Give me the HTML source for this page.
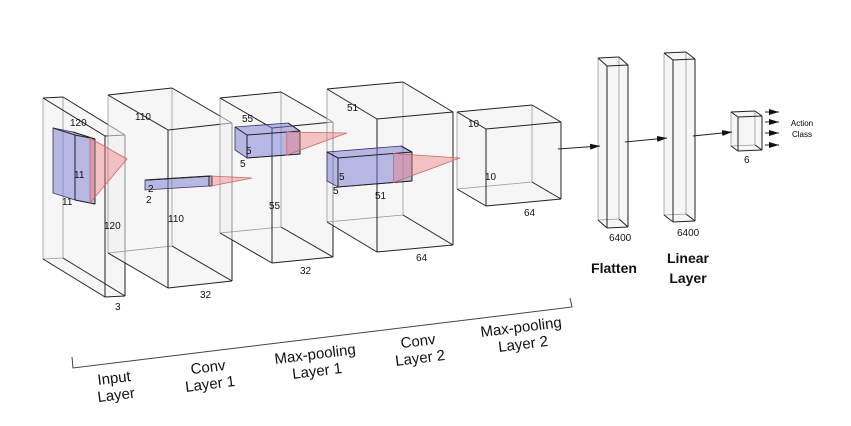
<!DOCTYPE html>
<html><head><meta charset="utf-8"><style>
html,body{margin:0;padding:0;background:#fff;}
svg{display:block;font-family:"Liberation Sans",Arial,sans-serif;}
.e{fill:none;stroke:#222;stroke-width:1}
.h{fill:none;stroke:#999;stroke-width:0.8}
.f{fill:#eeeeee;fill-opacity:0.55;stroke:none}
.lb{font-size:10px;fill:#111}
.bl{font-size:15px;fill:#111}
.bb{font-size:14px;font-weight:bold;fill:#111}
</style></head><body>
<svg width="851" height="426" viewBox="0 0 851 426">
<defs><marker id="ah" viewBox="0 0 10 6" refX="10" refY="3" markerWidth="10" markerHeight="6" orient="auto" markerUnits="userSpaceOnUse"><path d="M0,0L10,3L0,6z" fill="#111"/></marker></defs>
<g id="boxes"></g>
<g>
<text class="lb" x="70" y="126">120</text><text class="lb" x="74" y="178">11</text><text class="lb" x="62" y="205">11</text>
<text class="lb" x="104" y="229">120</text><text class="lb" x="115" y="310">3</text>
<text class="lb" x="135" y="120">110</text><text class="lb" x="148" y="192">2</text><text class="lb" x="146" y="203">2</text>
<text class="lb" x="168" y="222">110</text><text class="lb" x="200" y="298">32</text>
<text class="lb" x="242" y="122">55</text><text class="lb" x="246" y="154">5</text><text class="lb" x="240" y="167">5</text>
<text class="lb" x="269" y="209">55</text><text class="lb" x="300" y="274">32</text>
<text class="lb" x="347" y="111">51</text><text class="lb" x="339" y="180">5</text><text class="lb" x="333" y="194">5</text>
<text class="lb" x="375" y="199">51</text><text class="lb" x="416" y="261">64</text>
<text class="lb" x="468" y="127">10</text><text class="lb" x="485" y="180">10</text><text class="lb" x="524" y="216">64</text>
<text class="lb" x="609" y="241">6400</text><text class="lb" x="677" y="236">6400</text><text class="lb" x="744" y="163">6</text>
<text style="font-size:8px" x="802" y="126" text-anchor="middle">Action</text>
<text style="font-size:8px" x="802" y="137" text-anchor="middle">Class</text>
</g>
<g>
<line class="e" x1="558" y1="149" x2="600" y2="146" marker-end="url(#ah)"/>
<line class="e" x1="625" y1="142" x2="667" y2="138" marker-end="url(#ah)"/>
<line class="e" x1="693" y1="136" x2="732" y2="132" marker-end="url(#ah)"/>
<line class="e" x1="765" y1="112" x2="779" y2="112" marker-end="url(#ah)"/>
<line class="e" x1="765" y1="122" x2="779" y2="122" marker-end="url(#ah)"/>
<line class="e" x1="765" y1="133" x2="779" y2="133" marker-end="url(#ah)"/>
<line class="e" x1="765" y1="145" x2="779" y2="145" marker-end="url(#ah)"/>
</g>
<text class="bb" x="614" y="273" text-anchor="middle">Flatten</text>
<text class="bb" x="688" y="263" text-anchor="middle">Linear</text>
<text class="bb" x="688" y="283" text-anchor="middle">Layer</text>
<path d="M72,357 L73,368 L572,307 L570,298" fill="none" stroke="#444" stroke-width="1"/>
<g>
<g transform="translate(115,386) rotate(-7)"><text class="bl" text-anchor="middle" y="-3">Input</text><text class="bl" text-anchor="middle" y="14">Layer</text></g>
<g transform="translate(209,375) rotate(-7)"><text class="bl" text-anchor="middle" y="-3">Conv</text><text class="bl" text-anchor="middle" y="14">Layer 1</text></g>
<g transform="translate(316,362) rotate(-7)"><text class="bl" text-anchor="middle" y="-3">Max-pooling</text><text class="bl" text-anchor="middle" y="14">Layer 1</text></g>
<g transform="translate(419,349) rotate(-7)"><text class="bl" text-anchor="middle" y="-3">Conv</text><text class="bl" text-anchor="middle" y="14">Layer 2</text></g>
<g transform="translate(522,335) rotate(-7)"><text class="bl" text-anchor="middle" y="-3">Max-pooling</text><text class="bl" text-anchor="middle" y="14">Layer 2</text></g>
</g>
</svg>
<script>
const NS="http://www.w3.org/2000/svg";
const G=document.getElementById('boxes');
const boxNames=['input-layer','conv-layer-1','maxpool-layer-1','conv-layer-2','maxpool-layer-2','flatten-layer','linear-layer','output-layer'];
const boxGeom=[[105,125,136,297,-1,-62,-38],[168,232,130,288,-7,-60,-35],[272,333,128,263,-6,-52,-30],[377,453,119,252,-7,-50,-30],[486,561,129,206,-7,-29,-17],[607,628,66,228,-1,-9,-8],[673,695,60,222,-1,-9,-7],[738,762,117,151,-1,-7,-5]];
function poly(pts,cls,fill,stroke){const p=document.createElementNS(NS,'polygon');p.setAttribute('points',pts.map(q=>q.join(',')).join(' '));if(cls)p.setAttribute('class',cls);if(fill){p.setAttribute('fill',fill);}if(stroke){p.setAttribute('stroke',stroke);p.setAttribute('stroke-width','0.8');}return p;}
function line(a,b,cls){const l=document.createElementNS(NS,'line');l.setAttribute('x1',a[0]);l.setAttribute('y1',a[1]);l.setAttribute('x2',b[0]);l.setAttribute('y2',b[1]);l.setAttribute('class',cls);return l;}
boxGeom.forEach((b,i)=>{
 const [xl,xr,yt,yb,s,dx,dy]=b;
 const g=document.createElementNS(NS,'g');
 
 
 const A=[xl,yt],B=[xr,yt+s],C=[xr,yb+s],D=[xl,yb];
 const A2=[xl+dx,yt+dy],B2=[xr+dx,yt+s+dy],C2=[xr+dx,yb+s+dy],D2=[xl+dx,yb+dy];
 g.appendChild(poly([A2,B2,B,C,D,D2],'f'));
 [[A2,D2],[D2,C2],[C2,B2]].forEach(e=>g.appendChild(line(e[0],e[1],'h')));
 [[A2,B2],[B2,B],[A2,A],[D2,D],[C2,C],[A,B],[B,C],[C,D],[D,A]].forEach(e=>g.appendChild(line(e[0],e[1],'e')));
 G.appendChild(g);
});
// kernels: front face xl,xr,yt,yb,slope, depth dx,dy, apex ax,ay
const kerNames=['input-kernel','conv1-kernel','pool1-kernel','conv2-kernel'];
const kerGeom=[[75,95,135,200,4,-22,-7,127,159],[209,212,176,186,0,-64,4,252,178],[247,300,135,158,-4,-12,-8,347,133],[338,412,158,187,-6,-11,-6,460,158]];
kerGeom.forEach((k,i)=>{
 const [xl,xr,yt,yb,s,dx,dy,ax,ay]=k;
 const g=document.createElementNS(NS,'g');
 
 
 const A=[xl,yt],B=[xr,yt+s],C=[xr,yb+s],D=[xl,yb];
 const A2=[xl+dx,yt+dy],B2=[xr+dx,yt+s+dy],C2=[xr+dx,yb+s+dy],D2=[xl+dx,yb+dy];
 g.appendChild(poly([A2,B2,B,C,D,D2],'', 'rgba(120,120,210,0.5)','#336'));
 [[A2,A],[B2,B],[A,B],[B,C],[C,D],[D,A]].forEach(e=>g.appendChild(line(e[0],e[1],'e')));
 const tx=xr-(xr-xl)*0.25;
 g.appendChild(poly([[tx,yt+s*0.75],[ax,ay],[tx,yb+s*0.75]],'', 'rgba(240,120,120,0.4)','#c66'));
 G.appendChild(g);
});
</script>
</body></html>
